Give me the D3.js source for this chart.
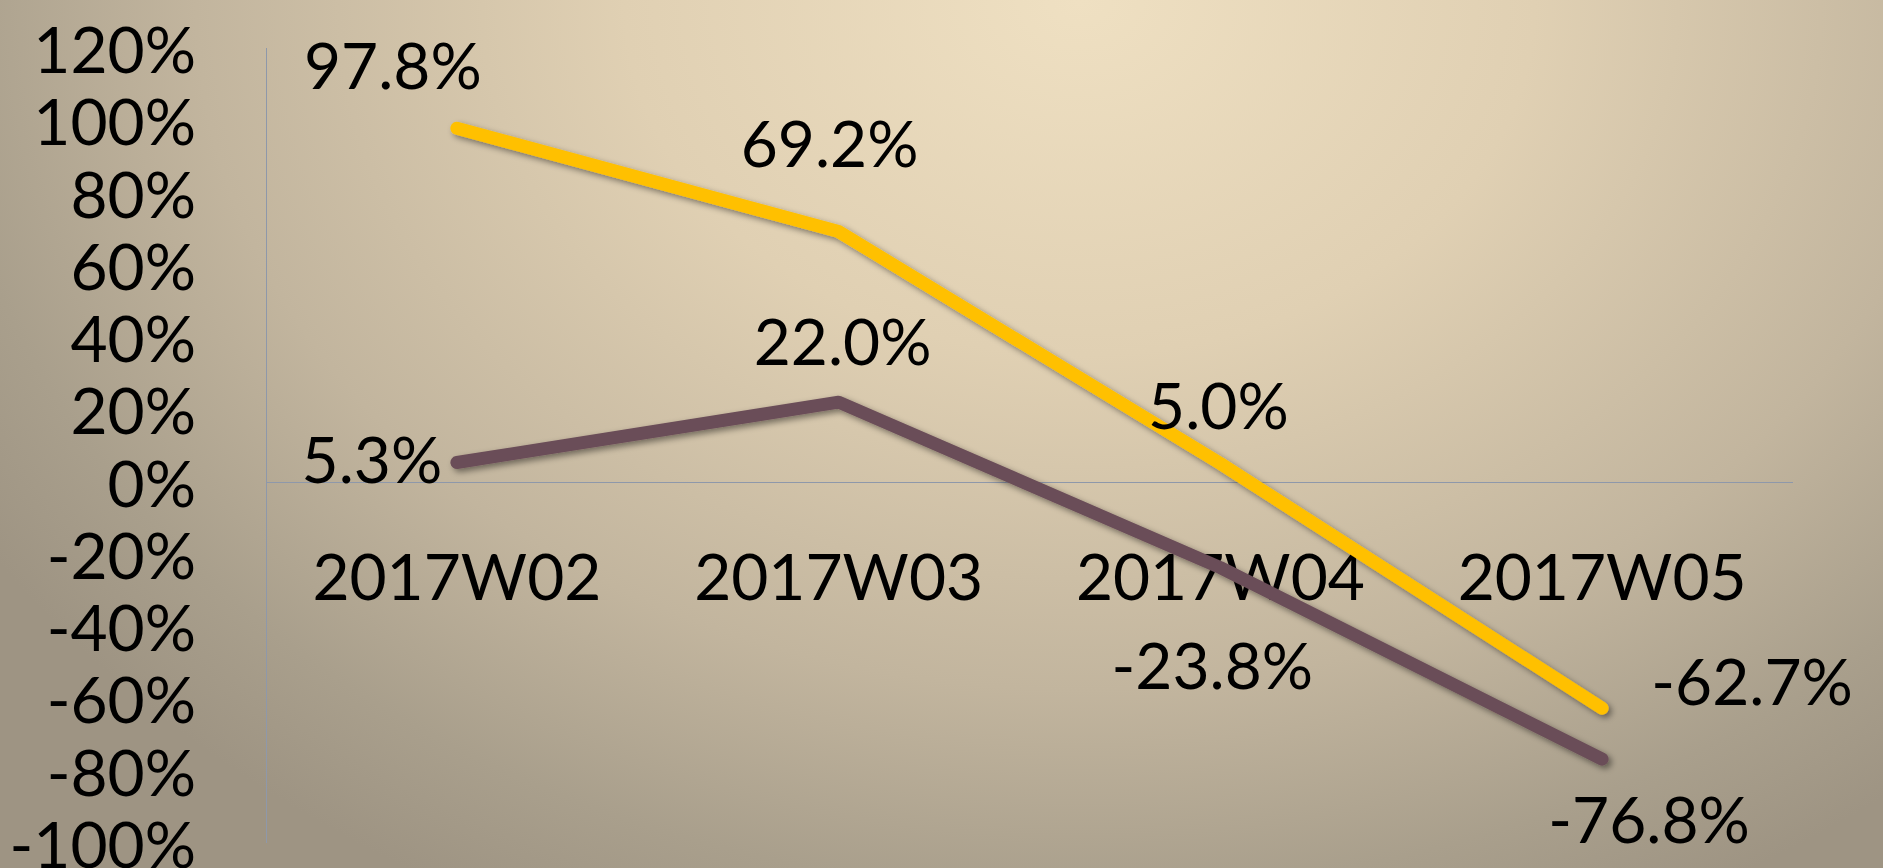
<!DOCTYPE html>
<html>
<head>
<meta charset="utf-8">
<script src="https://cdn.jsdelivr.net/npm/d3@7"></script>
<style>
  html, body { margin: 0; padding: 0; overflow: hidden; }
  svg { display: block; }
  text { font-family: Lato, "Open Sans", sans-serif; fill: #000; }
</style>
</head>
<body>
<div id="chart"></div>
<script>
// data
const weeks = ["2017W02", "2017W03", "2017W04", "2017W05"];
const seriesYellow = [97.8, 69.2, 5.0, -62.7];
const seriesPurple = [5.3, 22.0, -23.8, -76.8];
const yTicks = [120, 100, 80, 60, 40, 20, 0, -20, -40, -60, -80, -100];

// label offsets from the point (style, not data)
const yellowLabelOffset = [[-64, -62], [-9, -88], [-2, -58], [150, -26]];
const purpleLabelOffset = [[-85, -2], [4, -60], [-8, 98], [47, 61]];

const width = 1883, height = 868;
const plotLeft = 266, plotRight = 1793, plotTop = 48, plotBottom = 843;

const svg = d3.select("#chart").append("svg")
    .attr("width", width)
    .attr("height", height);

const defs = svg.append("defs");

// background gradient
const grad = defs.append("radialGradient")
    .attr("id", "bg")
    .attr("gradientUnits", "userSpaceOnUse")
    .attr("cx", 1080).attr("cy", 0).attr("r", 1300)
    .attr("gradientTransform", "translate(1080,0) scale(1,0.78) translate(-1080,0)");
[[0, "#EFE0C2"], [0.35, "#E0D0B3"], [0.68, "#C2B59E"], [0.88, "#A99F8C"], [1, "#9E9483"]]
    .forEach(s => grad.append("stop").attr("offset", s[0]).attr("stop-color", s[1]));

svg.append("rect")
    .attr("width", width).attr("height", height)
    .attr("fill", "url(#bg)");

// line shadow
const shadow = defs.append("filter").attr("id", "shadow")
    .attr("x", "-10%").attr("y", "-10%").attr("width", "130%").attr("height", "130%");
shadow.append("feDropShadow")
    .attr("dx", 3).attr("dy", 3).attr("stdDeviation", 3)
    .attr("flood-color", "#000").attr("flood-opacity", 0.45);

// scales
const x = d3.scaleBand().domain(weeks).range([plotLeft, plotRight]);
const y = d3.scaleLinear().domain([-100, 120]).range([plotBottom, plotTop]);

// y axis line
svg.append("line")
    .attr("x1", plotLeft + 0.5).attr("x2", plotLeft + 0.5)
    .attr("y1", y(120)).attr("y2", y(-100))
    .attr("stroke", "#8E98AA").attr("stroke-width", 1);

// zero line
svg.append("line")
    .attr("x1", plotLeft).attr("x2", plotRight)
    .attr("y1", Math.round(y(0)) + 0.5).attr("y2", Math.round(y(0)) + 0.5)
    .attr("stroke", "#8E98AA").attr("stroke-width", 1);

// y tick labels
svg.selectAll(".ytick")
    .data(yTicks)
    .enter()
    .append("text")
    .attr("class", "ytick")
    .attr("x", 196)
    .attr("y", d => y(d) + 25)
    .attr("text-anchor", "end")
    .style("font-size", "64px")
    .text(d => d + "%");

// category labels
svg.selectAll(".xlabel")
    .data(weeks)
    .enter()
    .append("text")
    .attr("class", "xlabel")
    .attr("x", d => x(d) + x.bandwidth() / 2)
    .attr("y", y(0) + 118)
    .attr("text-anchor", "middle")
    .style("font-size", "64px")
    .text(d => d);

const line = d3.line()
    .x((d, i) => x(weeks[i]) + x.bandwidth() / 2)
    .y(d => y(d));

function drawSeries(values, color, offsets) {
    svg.append("path")
        .datum(values)
        .attr("d", line)
        .attr("fill", "none")
        .attr("stroke", color)
        .attr("stroke-width", 13)
        .attr("stroke-linecap", "round")
        .attr("stroke-linejoin", "round")
        .attr("filter", "url(#shadow)");

    svg.selectAll(null)
        .data(values)
        .enter()
        .append("text")
        .attr("x", (d, i) => x(weeks[i]) + x.bandwidth() / 2 + offsets[i][0])
        .attr("y", (d, i) => y(d) + offsets[i][1] + 23)
        .attr("text-anchor", "middle")
        .style("font-size", "64px")
        .text(d => d.toFixed(1) + "%");
}

drawSeries(seriesPurple, "#6B4E58", purpleLabelOffset);
drawSeries(seriesYellow, "#FFC000", yellowLabelOffset);
</script>
</body>
</html>
